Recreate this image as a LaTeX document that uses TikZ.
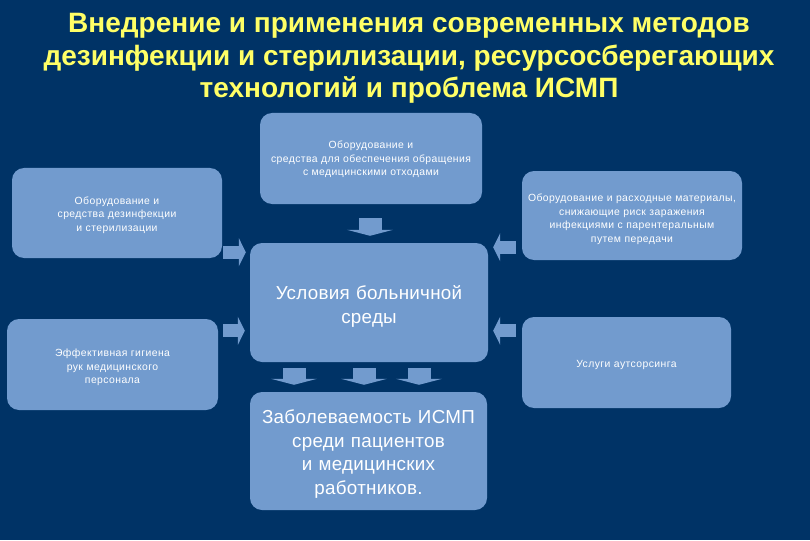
\documentclass[tikz,border=0pt]{standalone}
\usepackage{fontspec}
\setmainfont{Liberation Sans}
\newfontfamily\titlefont{Liberation Sans}
\newfontfamily\smallfont[LetterSpace=4]{Liberation Sans}
\newfontfamily\bigfont[LetterSpace=1.5]{Liberation Sans}
\usetikzlibrary{arrows.meta}
\definecolor{bg}{RGB}{0,51,102}
\definecolor{boxc}{RGB}{114,155,206}
\definecolor{ttl}{RGB}{255,255,102}
\newcommand\tpad[1]{\rule{0pt}{#1}}
\begin{document}
\begin{tikzpicture}[x=1pt,y=-1pt,
  box/.style={fill=boxc, rounded corners=12pt, text=white, align=center, inner sep=0pt, shape=rectangle},
  small/.style={font=\smallfont\fontsize{10.4}{13.5}\selectfont},
  big/.style={font=\bigfont\fontsize{18.8}{23.5}\selectfont},
  fatv/.style={draw=boxc, line width=23pt, -{Triangle[length=6pt,width=46pt]}},
  fath/.style={draw=boxc, line width=13pt, -{Triangle[length=7pt,width=28pt]}}]
\fill[bg] (0,0) rectangle (810,540);
\useasboundingbox (0,0) rectangle (810,540);
\node[text=ttl, align=center, font=\titlefont\bfseries\fontsize{28}{32.5}\selectfont] (title) at (409,58.5)
  {Внедрение и применения современных методов\\дезинфекции и стерилизации, ресурсосберегающих\\технологий и проблема ИСМП};
\node[box, small, text width=222pt, minimum height=91pt] (T) at (371,158.5)
  {\tpad{10pt}Оборудование и\\средства для обеспечения обращения\\с медицинскими отходами};
\node[box, small, text width=210pt, minimum height=90pt] (L1) at (117,213)
  {\tpad{11.5pt}Оборудование и\\средства дезинфекции\\и стерилизации};
\node[box, small, text width=220pt, minimum height=89pt] (R1) at (632,215.5)
  {\tpad{15.5pt}Оборудование и расходные материалы,\\снижающие риск заражения\\инфекциями с парентеральным\\путем передачи};
\node[box, big, text width=238pt, minimum height=119pt] (C) at (369,302.5)
  {\tpad{22pt}Условия больничной\\среды};
\node[box, small, text width=211pt, minimum height=91pt] (L2) at (112.5,364.5)
  {\tpad{13.5pt}Эффективная гигиена\\рук медицинского\\персонала};
\node[box, small, text width=209pt, minimum height=91pt] (R2) at (626.5,362.5)
  {\tpad{11.5pt}Услуги аутсорсинга};
\node[box, big, text width=237pt, minimum height=118pt] (B) at (368.5,451)
  {\tpad{20pt}Заболеваемость ИСМП\\среди пациентов\\и медицинских\\работников.};
% arrows
\draw[fatv, shorten <=14pt, shorten >=7pt] ([xshift=-1pt]T.south) -- ([xshift=-1pt]T.south |- C.north);
\coordinate (a1) at ([yshift=6pt]L1.south east);
\draw[fath, shorten <=1pt, shorten >=4pt] (a1) -- (a1 -| C.west);
\coordinate (a2) at ([yshift=-12pt]L2.north east);
\draw[fath, shorten <=5pt, shorten >=5pt] (a2) -- (a2 -| C.west);
\coordinate (a3) at ([yshift=13pt]R1.south west);
\draw[fath, shorten <=6pt, shorten >=5pt] (a3) -- (a3 -| C.east);
\coordinate (a4) at ([yshift=-14pt]R2.north west);
\draw[fath, shorten <=6pt, shorten >=5pt] (a4) -- (a4 -| C.east);
\foreach \dx/\n in {-75/d1,-5/d2,50/d3}{
  \coordinate (\n) at ([xshift=\dx pt]C.south);
  \draw[fatv, shorten <=6pt, shorten >=7pt] (\n) -- (\n |- B.north);
}
\end{tikzpicture}
\end{document}
